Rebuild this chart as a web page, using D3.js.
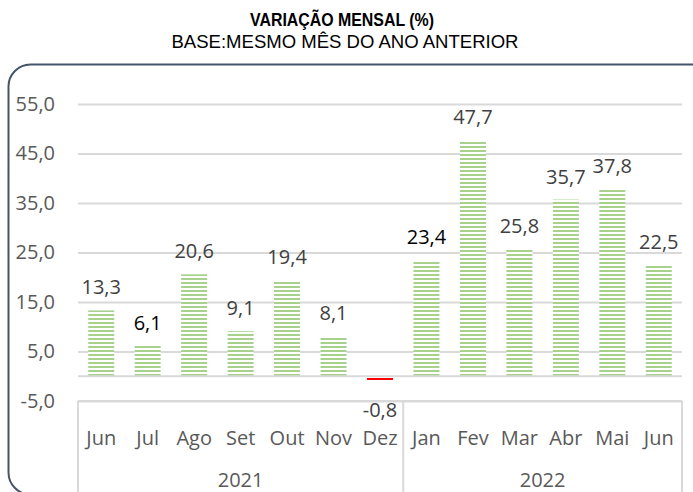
<!DOCTYPE html>
<html>
<head>
<meta charset="utf-8">
<script src="https://cdn.jsdelivr.net/npm/d3@7"></script>
<style>
html,body{margin:0;padding:0;background:#fff;}
svg{display:block;}
</style>
</head>
<body>
<svg id="chart" width="693" height="492"></svg>
<script>
const months = ["Jun","Jul","Ago","Set","Out","Nov","Dez","Jan","Fev","Mar","Abr","Mai","Jun"];
const years = ["2021","2022"];
const yearOfMonth = [0,0,0,0,0,0,0,1,1,1,1,1,1];
const values = [13.3,6.1,20.6,9.1,19.4,8.1,-0.8,23.4,47.7,25.8,35.7,37.8,22.5];
const yTicks = [-5,5,15,25,35,45,55];
const title = "VARIAÇÃO MENSAL (%)";
const subtitle = "BASE:MESMO MÊS DO ANO ANTERIOR";

(function(){
const svg = d3.select("#chart");
const W = 693, H = 492;
const pLeft = 78, pRight = 682, pTop = 104, pBottom = 401;
const font = "'Open Sans', 'Noto Sans', sans-serif";
const fmt = d => d3.format(".1f")(d).replace(".", ",").replace("\u2212", "-");

const defs = svg.append("defs");
function stripe(id, color){
  const p = defs.append("pattern").attr("id", id).attr("patternUnits","userSpaceOnUse")
    .attr("width", 8).attr("height", 4).attr("y", 0);
  p.append("rect").attr("width",8).attr("height",4).attr("fill","#fff");
  p.append("rect").attr("y",2).attr("width",8).attr("height",2).attr("fill",color);
}
stripe("g","#a9d18e");
stripe("r","#ff0000");

// frame
svg.append("rect").attr("x",8.5).attr("y",64.5).attr("width",710).attr("height",430)
  .attr("rx",22).attr("ry",22).attr("fill","none").attr("stroke","#44546a").attr("stroke-width",2);

// titles
svg.append("text").attr("x",342).attr("y",26).attr("text-anchor","middle")
  .attr("font-family","'Liberation Sans Narrow', 'Liberation Sans', Arial, sans-serif")
  .attr("font-weight","bold").attr("font-size",19).attr("fill","#000")
  .attr("textLength",184).attr("lengthAdjust","spacingAndGlyphs").text(title);
svg.append("text").attr("x",345).attr("y",48).attr("text-anchor","middle")
  .attr("font-family","'Liberation Sans Narrow', 'Liberation Sans', Arial, sans-serif")
  .attr("font-size",19).attr("fill","#000")
  .attr("textLength",347).attr("lengthAdjust","spacingAndGlyphs").text(subtitle);

const y = d3.scaleLinear().domain([-5,55]).range([pBottom, pTop]);
const x = d3.scaleBand().domain(d3.range(months.length)).range([pLeft, pRight])
  .paddingInner(0.44).paddingOuter(0.22);

// gridlines
const yAxis = d3.axisLeft(y).tickValues(yTicks).tickSize(-(pRight-pLeft)).tickPadding(23)
  .tickFormat(fmt);
const ga = svg.append("g").attr("transform",`translate(${pLeft},0)`).call(yAxis);
ga.select(".domain").remove();
ga.selectAll(".tick line").attr("stroke","#d9d9d9").attr("stroke-width",2);
ga.selectAll(".tick text").attr("font-family",font).attr("font-size",20).attr("fill","#595959");

// bars
svg.append("g").selectAll("rect").data(values).join("rect")
  .attr("x",(d,i)=>x(i)).attr("width",x.bandwidth())
  .attr("y",d=>y(Math.max(0,d))).attr("height",d=>Math.abs(y(d)-y(0)))
  .attr("fill",d=> d<0 ? "url(#r)" : "url(#g)");

// zero axis
svg.append("line").attr("x1",pLeft).attr("x2",pRight).attr("y1",y(0)).attr("y2",y(0))
  .attr("stroke","#d9d9d9").attr("stroke-width",2);

// category box
const step = x.step();
const sepX = pLeft + step*7;
const box = svg.append("g").attr("stroke","#d9d9d9").attr("stroke-width",2).attr("fill","none");
box.append("line").attr("x1",pLeft).attr("x2",pRight).attr("y1",pBottom).attr("y2",pBottom);
[pLeft, sepX, pRight].forEach(xx=>{
  box.append("line").attr("x1",xx).attr("x2",xx).attr("y1",pBottom).attr("y2",H+2);
});

// value labels
svg.append("g").selectAll("text").data(values).join("text")
  .attr("x",(d,i)=>x(i)+x.bandwidth()/2)
  .attr("y",d=> d<0 ? y(d)+37 : y(d)-16)
  .attr("text-anchor","middle").attr("font-family",font).attr("font-size",20)
  .attr("fill",(d,i)=> (i===1||i===7) ? "#000" : "#404040")
  .text(fmt);

// month labels
svg.append("g").selectAll("text").data(months).join("text")
  .attr("x",(d,i)=>x(i)+x.bandwidth()/2).attr("y",445)
  .attr("text-anchor","middle").attr("font-family",font).attr("font-size",20).attr("fill","#595959")
  .text(d=>d);

// year labels
svg.append("g").selectAll("text").data(years).join("text")
  .attr("x",(d,i)=>{
    const idx = yearOfMonth.map((v,j)=>v===i?j:-1).filter(j=>j>=0);
    return (x(idx[0]) + x(idx[idx.length-1]) + x.bandwidth())/2;
  }).attr("y",487)
  .attr("text-anchor","middle").attr("font-family",font).attr("font-size",20).attr("fill","#595959")
  .text(d=>d);
})();
</script>
</body>
</html>
